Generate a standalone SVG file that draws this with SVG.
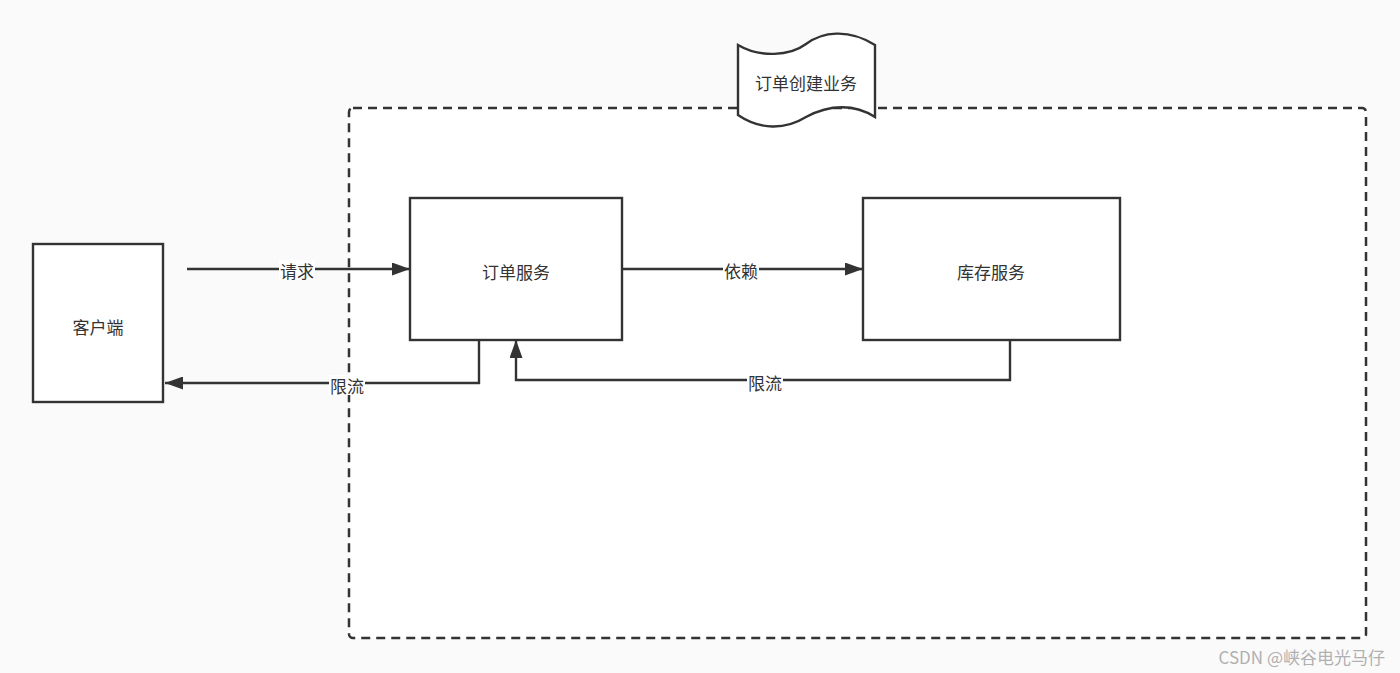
<svg xmlns="http://www.w3.org/2000/svg" width="1400" height="673" viewBox="0 0 1400 673">
<style>
.box{fill:#ffffff;stroke:#333333;stroke-width:2.4}
.lbl{font-family:"Noto Sans CJK SC","Liberation Sans",sans-serif;font-size:17px;fill:#333333;text-anchor:middle;dominant-baseline:central}
.edge{fill:none;stroke:#333333;stroke-width:2.4}
.elbl{font-family:"Noto Sans CJK SC","Liberation Sans",sans-serif;font-size:17px;fill:#333333;text-anchor:middle;dominant-baseline:central}
.bg{fill:#ffffff}
</style>
<defs>
<marker id="arr" viewBox="0 0 18 13" refX="18" refY="6.5" markerWidth="18" markerHeight="13" markerUnits="userSpaceOnUse" orient="auto">
<path d="M0,0 L18,6.5 L0,13 Z" fill="#333333"/>
</marker>
</defs>
<rect x="0" y="0" width="1400" height="673" fill="#fafafa"/>
<g id="container">
<rect x="349" y="108" width="1017" height="530" rx="4" fill="#ffffff" stroke="#333333" stroke-width="2.5" stroke-dasharray="9,6"/>
</g>
<g id="title">
<path d="M738,45 C760,58 790,56 806,44 C822,32 848,28 875,45 L875,117 C855,104 830,104 806,117 C785,130 760,130 738,115 Z" fill="#ffffff" stroke="#333333" stroke-width="2.4"/>
<text class="lbl" x="806" y="82">订单创建业务</text>
</g>
<g id="client">
<rect class="box" x="33" y="244" width="130" height="158"/>
<text class="lbl" x="98" y="326">客户端</text>
</g>
<g id="order">
<rect class="box" x="410" y="198" width="212" height="142"/>
<text class="lbl" x="516" y="271">订单服务</text>
</g>
<g id="inventory">
<rect class="box" x="863" y="198" width="257" height="142"/>
<text class="lbl" x="991" y="271">库存服务</text>
</g>
<g id="connectors">
<path class="edge" d="M187,269 L410,269" marker-end="url(#arr)"/>
<rect class="bg" x="279" y="260" width="36" height="20"/>
<text class="elbl" x="297" y="270">请求</text>
<path class="edge" d="M622,269 L863,269" marker-end="url(#arr)"/>
<rect class="bg" x="723" y="260" width="36" height="20"/>
<text class="elbl" x="741" y="270">依赖</text>
<path class="edge" d="M1010,340 L1010,380 L516,380 L516,340" marker-end="url(#arr)"/>
<rect class="bg" x="747" y="372" width="36" height="20"/>
<text class="elbl" x="765" y="382">限流</text>
<path class="edge" d="M479,340 L479,383 L165,383" marker-end="url(#arr)"/>
<rect class="bg" x="329" y="375" width="36" height="20"/>
<text class="elbl" x="347" y="385">限流</text>
</g>
<text x="1385" y="656" font-family="'Noto Sans CJK SC','Liberation Sans',sans-serif" font-size="17" fill="#b0b0b0" text-anchor="end" dominant-baseline="central">CSDN @峡谷电光马仔</text>
</svg>
